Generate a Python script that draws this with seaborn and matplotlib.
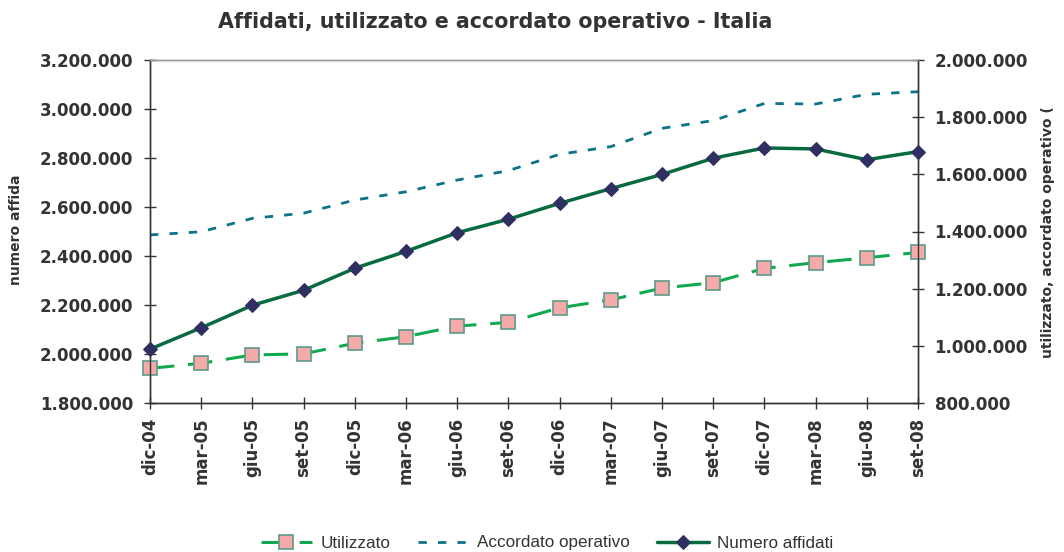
import numpy as np
import matplotlib
matplotlib.use("Agg")
import matplotlib.pyplot as plt
from matplotlib.ticker import FuncFormatter, MultipleLocator
import seaborn as sns

# Dati
periodi = ['dic-04', 'mar-05', 'giu-05', 'set-05', 'dic-05', 'mar-06', 'giu-06', 'set-06',
           'dic-06', 'mar-07', 'giu-07', 'set-07', 'dic-07', 'mar-08', 'giu-08', 'set-08']
numero_affidati = [2020000, 2107000, 2199000, 2260000, 2350000, 2419000, 2495000, 2550000,
                   2615000, 2675000, 2733000, 2799000, 2841000, 2837000, 2793000, 2826000]
utilizzato = [921000, 939000, 968000, 972000, 1009000, 1032000, 1069000, 1082000,
              1133000, 1161000, 1202000, 1221000, 1271000, 1291000, 1308000, 1327000]
accordato_operativo = [1388000, 1399000, 1446000, 1464000, 1510000, 1539000, 1580000, 1613000,
                       1670000, 1697000, 1761000, 1788000, 1848000, 1846000, 1880000, 1889000]


def fmt_it(v, pos):
    return f"{int(round(v)):,}".replace(",", ".")


def main():
    sns.set_style("ticks")
    plt.rcParams['font.family'] = ['DejaVu Sans']

    x = np.arange(len(periodi))

    fig = plt.figure(figsize=(10.64, 5.52), dpi=100)
    ax = fig.add_axes([150 / 1064, 1 - 403 / 552, (918 - 150) / 1064, (403 - 60) / 552])
    ax2 = ax.twinx()

    # serie asse destro
    sns.lineplot(x=x, y=utilizzato, ax=ax2, color='#12a84e', lw=2.2,
                 ls=(0, (8, 4.5)), marker='s', markersize=9.5,
                 markerfacecolor='#f4aaa9', markeredgecolor='#5e9a88', markeredgewidth=1.2,
                 clip_on=False, zorder=3)
    sns.lineplot(x=x, y=accordato_operativo, ax=ax2, color='#0a7388', lw=2.0,
                 ls=(0, (3, 4)), clip_on=False, zorder=2)
    # serie asse sinistro
    sns.lineplot(x=x, y=numero_affidati, ax=ax, color='#086b3f', lw=2.5,
                 marker='D', markersize=7, markerfacecolor='#2f2f62',
                 markeredgecolor='#2f2f62', clip_on=False, zorder=4)
    ax.set_zorder(ax2.get_zorder() + 1)
    ax.patch.set_visible(False)

    ax.set_xlim(0, len(periodi) - 1)
    ax.set_ylim(1800000, 3200000)
    ax2.set_ylim(800000, 2000000)
    ax.yaxis.set_major_locator(MultipleLocator(200000))
    ax2.yaxis.set_major_locator(MultipleLocator(200000))
    ax.yaxis.set_major_formatter(FuncFormatter(fmt_it))
    ax2.yaxis.set_major_formatter(FuncFormatter(fmt_it))
    ax.set_xticks(x)
    ax.set_xticklabels(periodi, rotation=90)

    for a in (ax, ax2):
        a.set_xlabel('')
        a.set_ylabel('')
        a.tick_params(axis='both', direction='inout', length=9, width=1, color='#333333',
                      labelsize=12, labelcolor='#333333', pad=7.5)
        for lab in a.get_xticklabels() + a.get_yticklabels():
            lab.set_fontweight('bold')
        for s in a.spines.values():
            s.set_color('#333333')
            s.set_linewidth(1)
        a.spines['top'].set_color('#999999')
    ax.tick_params(axis='x', pad=6)

    fig.text(495 / 1064, 1 - 22 / 552, 'Affidati, utilizzato e accordato operativo - Italia',
             ha='center', va='center', fontsize=14.9, fontweight='bold', color='#333333')

    fig.text(16 / 1064, 1 - 285 / 552, 'numero affida', rotation=90,
             ha='center', va='bottom', fontsize=10, fontweight='bold', color='#333333')
    fig.text(1048 / 1064, 1 - 358 / 552, 'utilizzato, accordato operativo (',
             rotation=90, ha='center', va='bottom', fontsize=10, fontweight='bold',
             color='#333333')

    h_util = ax2.lines[0]
    h_acc = ax2.lines[1]
    h_num = ax.lines[0]
    fig.legend([h_util, h_acc, h_num], ['Utilizzato', 'Accordato operativo', 'Numero affidati'],
               loc='center', bbox_to_anchor=(547 / 1064, 1 - 543 / 552), ncol=3, frameon=False,
               prop={'family': 'Liberation Sans', 'size': 12.3}, handlelength=3.0,
               handletextpad=0.5, columnspacing=1.6, labelcolor='#333333')

    fig.savefig('out.png', dpi=100)


if __name__ == "__main__":
    main()
